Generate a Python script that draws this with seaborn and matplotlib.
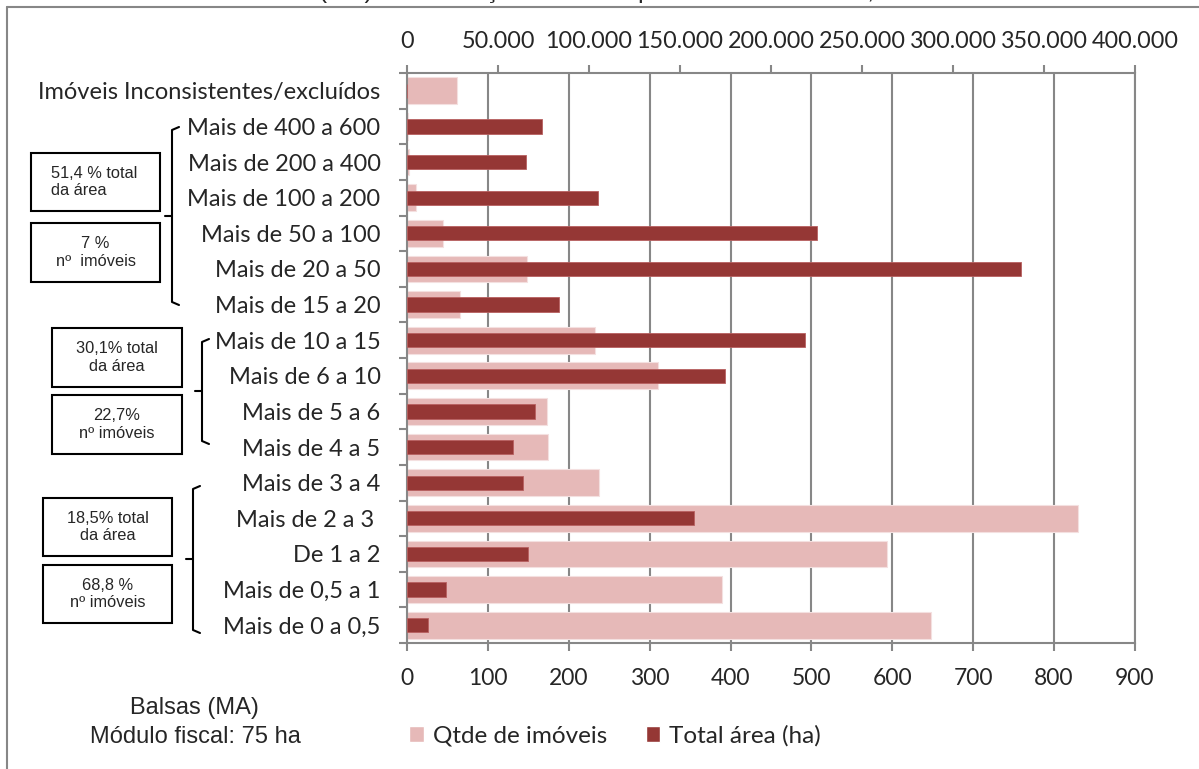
import numpy as np
import pandas as pd
import seaborn as sns
import matplotlib.pyplot as plt
from matplotlib.patches import Patch, Rectangle
from matplotlib.lines import Line2D
from matplotlib.ticker import FuncFormatter

# Área dos imóveis rurais de Balsas (MA) por faixa de módulos fiscais
faixas = [
    "Imóveis Inconsistentes/excluídos",
    "Mais de 400 a 600",
    "Mais de 200 a 400",
    "Mais de 100 a 200",
    "Mais de 50 a 100",
    "Mais de 20 a 50",
    "Mais de 15 a 20",
    "Mais de 10 a 15",
    "Mais de 6 a 10",
    "Mais de 5 a 6",
    "Mais de 4 a 5",
    "Mais de 3 a 4",
    "Mais de 2 a 3 ",
    "De 1 a 2",
    "Mais de 0,5 a 1",
    "Mais de 0 a 0,5",
]
qtde_imoveis = [62, 1, 3, 11, 44, 148, 66, 233, 310, 173, 174, 237, 830, 594, 390, 648]
total_area_ha = [0, 74100, 65650, 105100, 225400, 337300, 83600, 218600, 174600,
                 70600, 58300, 63650, 157550, 66600, 21650, 11700]

qtde_ticks = list(range(0, 901, 100))
area_ticks = list(range(0, 400001, 50000))

titulo = "Gráfico 8 - Balsas (MA) - Distribuição de terras por intervalo de área, 2013"
legenda = ["Qtde de imóveis", "Total área (ha)"]
municipio = ["Balsas (MA)", "Módulo fiscal: 75 ha"]
grupos = [
    ("51,4 % total\nda área", "7 %\nnº  imóveis"),
    ("30,1% total\nda área", "22,7%\nnº imóveis"),
    ("18,5% total\nda área", "68,8 %\nnº imóveis"),
]

PINK = "#E6B9B8"
DARK = "#953735"
GRAY = "#878787"
FS_CAT = 17
FS_TOP = 16.8
FS_BOT = 16.5
FS_LEG = 17.5

sns.set_style("white")
plt.rcParams["font.family"] = ["Lato", "DejaVu Sans"]

W, H = 1199, 769


def fx(px):
    return px / W


def fy(py):
    return 1 - py / H


fig = plt.figure(figsize=(W / 100, H / 100), dpi=100)
ax = fig.add_axes([fx(407), fy(643), fx(1135) - fx(407), fy(73) - fy(643)])
ax2 = ax.twiny()

df = pd.DataFrame({"faixa": faixas, "qtde": qtde_imoveis, "area": total_area_ha})
sns.barplot(data=df, y="faixa", x="qtde", ax=ax, color=PINK, width=0.75,
            orient="h", saturation=1, edgecolor="#F4E0E0", linewidth=0.8)
sns.barplot(data=df, y="faixa", x="area", ax=ax2, color=DARK, width=0.4,
            orient="h", saturation=1, edgecolor="#B86060", linewidth=0.6)

ax.set_xlim(0, 900)
ax2.set_xlim(0, 400000)
ax.set_ylim(len(faixas) - 0.5, -0.5)
for a in (ax, ax2):
    a.set_xlabel("")
    a.set_ylabel("")

# bottom axis: number of properties
ax.set_xticks(qtde_ticks)
ax.tick_params(axis="x", direction="out", length=6, width=1.5, color=GRAY,
               pad=12, labelsize=FS_BOT, bottom=True)
# top axis: total area
ax2.set_xticks(area_ticks)
ax2.xaxis.set_major_formatter(FuncFormatter(lambda v, p: f"{int(v):,}".replace(",", ".")))
ax2.tick_params(axis="x", direction="out", length=6, width=1.5, color=GRAY,
                pad=9, labelsize=FS_TOP, top=True)

# category labels at centres, tick marks between categories
ax.set_yticks(range(len(faixas)))
ax.set_yticklabels(faixas)
ax.tick_params(axis="y", which="major", length=0, pad=19, labelsize=FS_CAT)
ax.set_yticks(np.arange(-0.5, len(faixas), 1), minor=True)
ax.tick_params(axis="y", which="minor", length=6, width=1.5, color=GRAY,
               direction="out", left=True)

ax.grid(axis="x", color=GRAY, lw=1.5)
ax.grid(axis="y", visible=False)
ax.set_axisbelow(True)
ax2.grid(False)

for name, sp in ax.spines.items():
    sp.set_color(GRAY)
    sp.set_linewidth(1.5)
    sp.set_visible(name != "top")
for name, sp in ax2.spines.items():
    sp.set_color(GRAY)
    sp.set_linewidth(1.5)
    sp.set_visible(name == "top")

# outer frame
fig.add_artist(Line2D([fx(7), 1], [fy(7), fy(7)], color=GRAY, lw=1.5))
fig.add_artist(Line2D([fx(7), fx(7)], [fy(7), 0], color=GRAY, lw=1.5))

# title, running off the top edge of the figure
fig.text(fx(937), fy(-2), titulo, ha="right", va="baseline",
         family=["Liberation Sans"], fontsize=18)

# group brackets
brackets = [(172, 127, 305, 216), (202, 339, 444, 391), (193, 486, 633, 559)]
for x, top, bot, mid in brackets:
    fig.add_artist(Line2D([fx(x + 7), fx(x), fx(x), fx(x + 7)],
                          [fy(top), fy(top + 3), fy(bot - 3), fy(bot)],
                          color="black", lw=1.5))
    fig.add_artist(Line2D([fx(x - 7), fx(x)], [fy(mid), fy(mid)], color="black", lw=1.5))

# summary boxes
boxes = [
    [(31, 153, 160, 211), (31, 223, 160, 282)],
    [(52, 328, 182, 387), (52, 395, 182, 454)],
    [(43, 498, 172, 556), (43, 565, 172, 623)],
]
for gi, (pair, textos) in enumerate(zip(boxes, grupos)):
    for bi, ((x0, y0, x1, y1), txt) in enumerate(zip(pair, textos)):
        fig.add_artist(Rectangle((fx(x0), fy(y1)), fx(x1) - fx(x0), fy(y0) - fy(y1),
                                 transform=fig.transFigure, fill=False,
                                 ec="black", lw=1.5))
        if gi == 0 and bi == 0:
            fig.text(fx(51), fy((y0 + y1) / 2), txt, ha="left", va="center",
                     family=["Liberation Sans"], fontsize=11.8, linespacing=1.2)
        else:
            fig.text(fx((x0 + x1) / 2), fy((y0 + y1) / 2), txt, ha="center",
                     va="center", family=["Liberation Sans"], fontsize=11.8,
                     multialignment="center", linespacing=1.2)

# municipality note
fig.text(fx(194), fy(708), municipio[0], ha="center", va="center",
         family=["Liberation Sans"], fontsize=17)
fig.text(fx(195), fy(737), municipio[1], ha="center", va="center",
         family=["Liberation Sans"], fontsize=17)

handles = [Patch(facecolor=PINK, label=legenda[0]), Patch(facecolor=DARK, label=legenda[1])]
fig.legend(handles=handles, loc="center", bbox_to_anchor=(fx(615), fy(736)),
           ncol=2, frameon=False, fontsize=FS_LEG, handlelength=0.6, handleheight=0.6,
           handletextpad=0.35, columnspacing=1.6)

fig.savefig("out.png", dpi=100)
